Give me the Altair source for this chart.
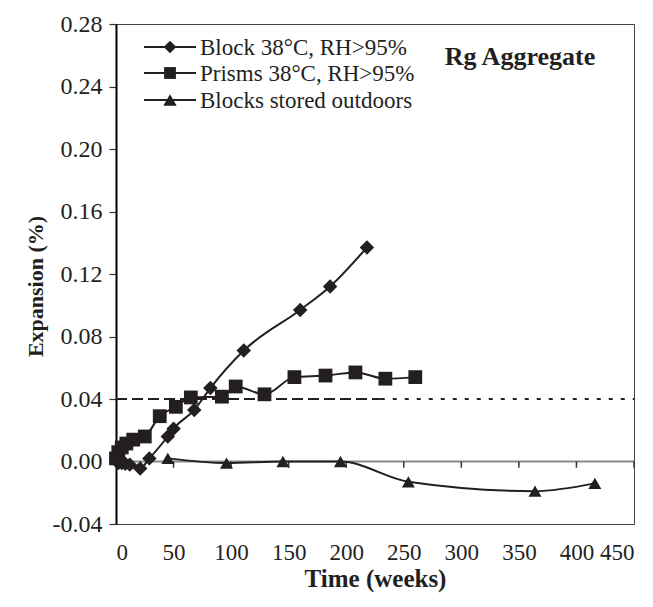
import altair as alt
import pandas as pd

# ---------------- data ----------------
series = ["Block 38°C, RH>95%", "Prisms 38°C, RH>95%", "Blocks stored outdoors"]

block_t = [0, 2, 5, 8, 12, 21, 29, 45, 50, 68, 82, 111, 160, 186, 218]
block_e = [0.001, -0.001, -0.001, -0.0015, -0.002, -0.0045, 0.002, 0.016, 0.021,
           0.033, 0.047, 0.071, 0.097, 0.112, 0.137]

prism_t = [0, 2, 5, 9, 15, 25, 38, 52, 65, 92, 104, 129, 155, 182, 208, 234, 260]
prism_e = [0.002, 0.006, 0.009, 0.0115, 0.014, 0.016, 0.029, 0.035, 0.041, 0.0415,
           0.048, 0.043, 0.054, 0.055, 0.057, 0.053, 0.054]

out_t = [45, 96, 145, 195, 254, 364, 416]
out_e = [0.002, -0.001, 0.0, 0.0, -0.013, -0.019, -0.014]

limit = 0.04
limit_split = 230          # where the dashed limit line turns dotted
x_ticks = [0, 50, 100, 150, 200, 250, 300, 350, 400, 450]
x_minor = [50, 100, 150, 200, 250, 300, 350, 400, 450]
y_ticks = [-0.04, 0.0, 0.04, 0.08, 0.12, 0.16, 0.20, 0.24, 0.28]
chart_label = "Rg Aggregate"

# ---------------- styling ----------------
INK = "#231f20"
FONT = "Liberation Serif, Times New Roman, serif"
W, H = 518, 500

df = pd.concat([
    pd.DataFrame({"t": block_t, "e": block_e, "series": series[0]}),
    pd.DataFrame({"t": prism_t, "e": prism_e, "series": series[1]}),
    pd.DataFrame({"t": out_t, "e": out_e, "series": series[2]}),
], ignore_index=True)

xs = alt.Scale(domain=[0, 450], nice=False, zero=False)
ys = alt.Scale(domain=[-0.04, 0.28], nice=False, zero=False)

x_axis = alt.Axis(values=x_ticks, ticks=False, domain=False, grid=False,
                  labelFont=FONT, labelFontSize=23, labelColor=INK, labelPadding=17,
                  title="Time (weeks)", titleFont=FONT, titleFontSize=25,
                  titleFontWeight="bold", titleColor=INK, titlePadding=2)
y_axis = alt.Axis(values=y_ticks, grid=False, domain=True, domainColor="#000000",
                  domainWidth=2, ticks=True, tickSize=7, tickColor="#333333",
                  tickWidth=1.2, labelFont=FONT, labelFontSize=24, labelColor=INK,
                  labelPadding=7,
                  labelExpr="datum.value < 0 ? '-' + format(-datum.value, '.2f') : format(datum.value, '.2f')",
                  title="Expansion (%)", titleFont=FONT, titleFontSize=22,
                  titleFontWeight="bold", titleColor=INK, titleAngle=-90,
                  titleX=-81, titleY=262, titleAlign="center", titleBaseline="middle")

base = alt.Chart(df)

lines = base.mark_line(interpolate="monotone", color=INK, strokeWidth=2).encode(
    x=alt.X("t:Q", scale=xs, axis=x_axis),
    y=alt.Y("e:Q", scale=ys, axis=y_axis),
    detail="series:N",
)

points = base.mark_point(filled=True, opacity=1, color=INK, strokeWidth=0).encode(
    x=alt.X("t:Q", scale=xs),
    y=alt.Y("e:Q", scale=ys),
    shape=alt.Shape("series:N", scale=alt.Scale(domain=series,
                    range=["diamond", "square", "triangle-up"]), legend=None),
    size=alt.Size("series:N", scale=alt.Scale(domain=series, range=[210, 170, 230]),
                  legend=None),
)

zero_df = pd.DataFrame({"x": [x_ticks[0]], "x2": [x_ticks[-1]], "y": [0.0]})
zero_line = alt.Chart(zero_df).mark_rule(color="#8a8a8a", strokeWidth=2).encode(
    x=alt.X("x:Q", scale=xs), x2="x2:Q", y=alt.Y("y:Q", scale=ys))

tick_df = pd.DataFrame({"t": x_minor})
zero_ticks = alt.Chart(tick_df).mark_rule(color="#333333", strokeWidth=1.5).encode(
    x=alt.X("t:Q", scale=xs), y=alt.datum(0.0, scale=ys), y2=alt.datum(-0.0040))

lim_a = pd.DataFrame({"x": [x_ticks[0]], "x2": [limit_split], "y": [limit]})
lim_b = pd.DataFrame({"x": [limit_split], "x2": [x_ticks[-1]], "y": [limit]})
limit_a = alt.Chart(lim_a).mark_rule(color=INK, strokeWidth=1.8, strokeDash=[11, 5]).encode(
    x=alt.X("x:Q", scale=xs), x2="x2:Q", y=alt.Y("y:Q", scale=ys))
limit_b = alt.Chart(lim_b).mark_rule(color=INK, strokeWidth=1.8, strokeDash=[4, 8]).encode(
    x=alt.X("x:Q", scale=xs), x2="x2:Q", y=alt.Y("y:Q", scale=ys))

# ---------------- legend (drawn inside the plot) ----------------
one = alt.Data(values=[{"k": 0}])
legend_layers = []
row_y = [23, 49, 76]
shapes = ["diamond", "square", "triangle-up"]
sizes = [160, 140, 180]
for lbl, ry, shp, sz in zip(series, row_y, shapes, sizes):
    legend_layers.append(alt.Chart(one).mark_rule(color=INK, strokeWidth=2).encode(
        x=alt.value(28), x2=alt.value(80), y=alt.value(ry)))
    legend_layers.append(alt.Chart(one).mark_point(shape=shp, size=sz, filled=True,
                                                  opacity=1, color=INK, strokeWidth=0).encode(
        x=alt.value(54), y=alt.value(ry)))
    legend_layers.append(alt.Chart(one).mark_text(align="left", baseline="middle",
                                                 font=FONT, fontSize=23, color=INK).encode(
        x=alt.value(84), y=alt.value(ry + 1), text=alt.value(lbl)))

title_txt = alt.Chart(one).mark_text(align="center", baseline="middle", font=FONT,
                                     fontSize=26, fontWeight="bold", color=INK).encode(
    x=alt.value(404), y=alt.value(33), text=alt.value(chart_label))

chart = alt.layer(
    zero_line, zero_ticks, limit_a, limit_b, lines, points, *legend_layers, title_txt
).properties(
    width=W, height=H,
    autosize=alt.AutoSizeParams(type="none"),
    padding={"left": 108, "top": 16, "right": 10, "bottom": 74},
    background="white",
).configure_view(stroke="#444444", strokeWidth=1)

chart.save("out.html", embed_options={"renderer": "svg", "actions": False})
